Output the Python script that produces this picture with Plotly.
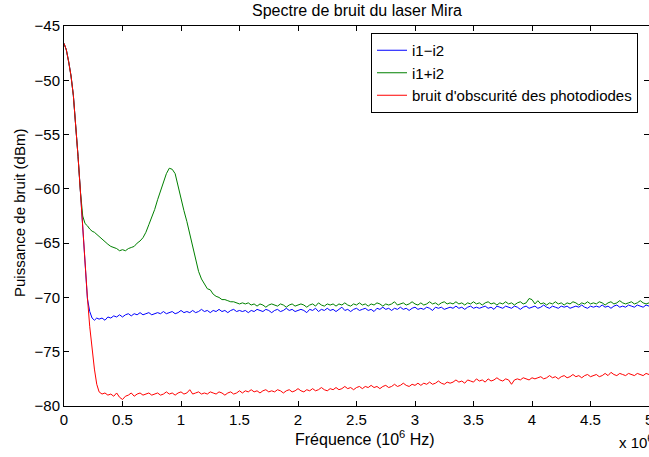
import plotly.graph_objects as go

# ---------------- data ----------------
# frequency grid in units of 1e6 Hz
freq_start = [0.0, 0.02, 0.04, 0.06, 0.08, 0.10, 0.12, 0.14, 0.16, 0.18, 0.20, 0.22, 0.24, 0.26, 0.28]
freq_rest = [round(0.3 + 0.025 * k, 3) for k in range(189)]
freq = freq_start + freq_rest

# i1-i2 (blue)
diff_start = [-46.6, -47.2, -48.3, -49.6, -51.4, -54.0, -57.0, -60.2, -63.8, -67.0, -70.1, -71.3, -71.9, -72.1, -71.9]
diff_rest = [
    -72.0, -71.9, -72.1, -71.8, -71.9, -71.7, -71.8, -71.6, -71.8, -71.6,
    -71.5, -71.7, -71.5, -71.6, -71.4, -71.6, -71.5, -71.4, -71.6, -71.5,
    -71.4, -71.5, -71.3, -71.5, -71.4, -71.3, -71.5, -71.4, -71.2, -71.4,
    -71.3, -71.4, -71.2, -71.4, -71.3, -71.1, -71.3, -71.2, -71.4, -71.2,
    -71.3, -71.1, -71.3, -71.2, -71.4, -71.2, -71.1, -71.3, -71.2, -71.3,
    -71.2, -71.4, -71.2, -71.3, -71.1, -71.2, -71.3, -71.1, -71.2, -71.4,
    -71.2, -71.1, -71.3, -71.2, -71.0, -71.2, -71.1, -71.3, -71.2, -71.1,
    -71.2, -71.4, -71.1, -71.2, -71.0, -71.3, -71.1, -71.2, -71.0, -71.2,
    -71.1, -71.3, -71.1, -70.9, -71.2, -71.1, -71.3, -71.1, -71.0, -71.2,
    -71.1, -71.0, -71.2, -71.1, -71.3, -71.0, -71.1, -70.9, -71.1, -71.0,
    -71.2, -71.0, -71.1, -70.9, -71.1, -71.0, -71.2, -71.0, -70.9, -71.1,
    -71.0, -71.1, -70.9, -71.0, -71.2, -70.9, -71.0, -70.9, -71.1, -71.0,
    -70.9, -71.0, -70.8, -71.0, -70.9, -71.1, -70.9, -70.8, -71.0, -70.9,
    -71.0, -70.9, -70.8, -71.0, -70.9, -71.1, -70.8, -70.9, -71.0, -70.8,
    -70.9, -71.0, -70.8, -70.9, -71.1, -70.9, -70.8, -71.0, -70.9, -70.8,
    -71.0, -70.9, -70.7, -70.9, -71.0, -70.8, -70.9, -71.0, -70.8, -70.9,
    -70.8, -71.0, -70.9, -70.8, -70.9, -70.7, -70.9, -71.0, -70.8, -70.9,
    -70.8, -70.9, -70.7, -70.9, -70.8, -71.0, -70.8, -70.7, -70.9, -70.8,
    -70.9, -70.7, -70.8, -70.9, -70.7, -70.8, -70.9, -70.7, -70.8,
]

# i1+i2 (green)
sum_start = [-46.6, -47.2, -48.3, -49.6, -51.4, -54.0, -57.0, -60.2, -62.5, -63.2, -63.4, -63.7, -63.9, -64.0, -64.2]
sum_rest = [
    -64.4, -64.6, -64.9, -65.1, -65.3, -65.4, -65.5, -65.7, -65.6, -65.7,
    -65.5, -65.4, -65.3, -65.0, -64.8, -64.5, -64.0, -63.3, -62.6, -61.9,
    -61.0, -60.2, -59.3, -58.6, -58.1, -58.2, -58.6, -59.8, -61.1, -62.0,
    -63.0, -64.2, -65.5, -66.6, -67.6, -68.3, -68.8, -69.2, -69.3, -69.7,
    -69.9, -70.0, -70.2, -70.2, -70.3, -70.4, -70.4, -70.5, -70.6, -70.5,
    -70.6, -70.5, -70.7, -70.6, -70.8, -70.6, -70.7, -70.9, -70.7, -70.6,
    -70.7, -70.8, -70.6, -70.7, -70.9, -70.7, -70.6, -70.8, -70.7, -70.6,
    -70.7, -70.9, -70.7, -70.6, -70.8, -70.5, -70.7, -70.8, -70.6, -70.7,
    -70.6, -70.8, -70.6, -70.7, -70.5, -70.7, -70.8, -70.6, -70.7, -70.5,
    -70.7, -70.6, -70.8, -70.6, -70.7, -70.5, -70.6, -70.8, -70.6, -70.7,
    -70.6, -70.4, -70.7, -70.6, -70.5, -70.7, -70.6, -70.4, -70.6, -70.7,
    -70.5, -70.7, -70.6, -70.4, -70.6, -70.5, -70.7, -70.5, -70.4, -70.6,
    -70.5, -70.6, -70.4, -70.6, -70.5, -70.7, -70.5, -70.6, -70.4, -70.6,
    -70.5, -70.7, -70.5, -70.4, -70.6, -70.5, -70.7, -70.5, -70.6, -70.4,
    -70.6, -70.5, -70.7, -70.5, -70.4, -70.6, -70.5, -70.1, -70.2, -70.6,
    -70.3, -70.6, -70.5, -70.7, -70.5, -70.6, -70.4, -70.6, -70.5, -70.7,
    -70.5, -70.6, -70.4, -70.5, -70.7, -70.5, -70.6, -70.4, -70.6, -70.5,
    -70.6, -70.4, -70.5, -70.7, -70.5, -70.4, -70.6, -70.5, -70.3, -70.5,
    -70.6, -70.5, -70.4, -70.6, -70.5, -70.3, -70.5, -70.6, -70.5,
]

# dark noise of the photodiodes (red)
dark_start = [-46.6, -47.2, -48.3, -49.6, -51.4, -54.0, -57.0, -60.2, -63.8, -67.0, -70.0, -72.7, -74.8, -76.6, -78.0]
dark_rest = [
    -78.7, -78.9, -78.8, -79.0, -78.9, -79.1, -78.8, -79.2, -79.4, -79.1,
    -79.0, -78.8, -79.1, -78.9, -78.8, -79.0, -78.9, -78.8, -79.0, -78.9,
    -78.8, -79.0, -78.9, -78.7, -78.9, -78.8, -79.0, -78.8, -78.7, -78.9,
    -78.8, -78.5, -78.9, -78.8, -78.7, -78.9, -78.8, -78.9, -78.7, -78.8,
    -78.9, -78.7, -78.8, -79.0, -78.8, -78.7, -78.9, -78.8, -78.6, -78.8,
    -78.6, -78.7, -78.5, -78.7, -78.6, -78.8, -78.6, -78.5, -78.7, -78.6,
    -78.7, -78.5, -78.6, -78.8, -78.6, -78.5, -78.7, -78.6, -78.4, -78.6,
    -78.7, -78.5, -78.6, -78.4, -78.6, -78.5, -78.3, -78.5, -78.6, -78.4,
    -78.5, -78.3, -78.5, -78.4, -78.2, -78.4, -78.3, -78.5, -78.3, -78.2,
    -78.4, -78.2, -78.3, -78.1, -78.3, -78.2, -78.4, -78.2, -78.1, -78.3,
    -78.2, -78.0, -78.2, -78.1, -77.9, -78.1, -78.2, -78.0, -78.1, -77.9,
    -78.1, -77.9, -78.0, -77.8, -78.0, -77.9, -77.7, -77.9, -78.0, -77.8,
    -77.9, -77.8, -77.6, -77.8, -77.7, -77.9, -77.6, -77.7, -77.8, -77.5,
    -77.7, -77.6, -77.8, -77.5, -77.7, -77.6, -77.4, -77.6, -77.7, -77.5,
    -77.6, -78.0, -77.6, -77.5, -77.6, -77.4, -77.5, -77.6, -77.4, -77.5,
    -77.4, -77.3, -77.5, -77.4, -77.2, -77.4, -77.3, -77.5, -77.3, -77.2,
    -77.4, -77.3, -77.1, -77.3, -77.2, -77.4, -77.2, -77.1, -77.3, -77.2,
    -77.1, -77.3, -77.2, -77.0, -77.2, -76.9, -77.1, -77.2, -77.0, -77.1,
    -77.2, -77.0, -77.1, -77.2, -77.0, -77.1, -77.2, -77.0, -77.1,
]

series_names = ["i1\u2212i2", "i1+i2", "bruit d'obscurité des photodiodes"]
series_values = [diff_start + diff_rest, sum_start + sum_rest, dark_start + dark_rest]
series_colors = ["#0000ff", "#008000", "#ff0000"]

x_ticks = [0, 0.5, 1, 1.5, 2, 2.5, 3, 3.5, 4, 4.5, 5]
x_ticklabels = ["0", "0.5", "1", "1.5", "2", "2.5", "3", "3.5", "4", "4.5", "5"]
y_ticks = [-80, -75, -70, -65, -60, -55, -50, -45]

# ---------------- figure ----------------
FONT = "Liberation Sans, Arial, Helvetica, sans-serif"

fig = go.Figure()
for name, vals, col in zip(series_names, series_values, series_colors):
    fig.add_trace(go.Scatter(x=freq, y=vals, mode="lines", name=name,
                             line=dict(color=col, width=1)))

W, H = 649, 457
L, T, R, B = 64, 26, 0, 51
pw = W - L - R
ph = H - T - B

def px_to_paper_x(px):
    return (px - L) / pw

def px_to_paper_y(py):
    return (H - B - py) / ph

axis_common = dict(showline=True, linecolor="black", linewidth=1, mirror="ticks",
                   ticks="inside", ticklen=5, tickcolor="black", tickwidth=1,
                   showgrid=False, zeroline=False, automargin=False,
                   tickfont=dict(family=FONT, size=15, color="black"))

fig.update_layout(
    width=W, height=H,
    margin=dict(l=L, r=R, t=T, b=B, autoexpand=False),
    paper_bgcolor="white", plot_bgcolor="white",
    font=dict(family=FONT, size=15, color="black"),
    showlegend=True,
    legend=dict(x=px_to_paper_x(638), y=px_to_paper_y(33), xanchor="right", yanchor="top",
                bgcolor="white", bordercolor="black", borderwidth=1,
                font=dict(family=FONT, size=15, color="black"),
                tracegroupgap=0, itemwidth=30),
    xaxis=dict(range=[0, 5], tickvals=x_ticks, ticktext=x_ticklabels, **axis_common),
    yaxis=dict(range=[-80, -45], tickvals=y_ticks, **axis_common),
)

fig.add_annotation(text="Spectre de bruit du laser Mira", xref="paper", yref="paper",
                   x=px_to_paper_x(357), y=px_to_paper_y(11), xanchor="center", yanchor="middle",
                   showarrow=False, font=dict(family=FONT, size=16, color="black"))
fig.add_annotation(text="Fréquence (10<sup>6</sup> Hz)", xref="paper", yref="paper",
                   x=px_to_paper_x(365), y=px_to_paper_y(438), xanchor="center", yanchor="middle",
                   showarrow=False, font=dict(family=FONT, size=16, color="black"))
fig.add_annotation(text="Puissance de bruit (dBm)", xref="paper", yref="paper", textangle=-90,
                   x=px_to_paper_x(19), y=px_to_paper_y(213), xanchor="center", yanchor="middle",
                   showarrow=False, font=dict(family=FONT, size=15, color="black"))
fig.add_annotation(text="x 10<sup>6</sup>", xref="paper", yref="paper",
                   x=px_to_paper_x(617), y=px_to_paper_y(441), xanchor="left", yanchor="middle",
                   showarrow=False, font=dict(family=FONT, size=15, color="black"))
# last x tick label, which plotly hides because it sits on the window edge
fig.add_annotation(text=x_ticklabels[-1], xref="x", yref="paper",
                   x=x_ticks[-1], y=px_to_paper_y(419), xanchor="center", yanchor="middle",
                   showarrow=False, font=dict(family=FONT, size=15, color="black"))

# remove the default page margin so the figure sits at the window's top-left corner
fig.write_html("out.html",
               config={"displayModeBar": False},
               post_script="document.body.style.margin='0';document.body.style.overflow='hidden';")
